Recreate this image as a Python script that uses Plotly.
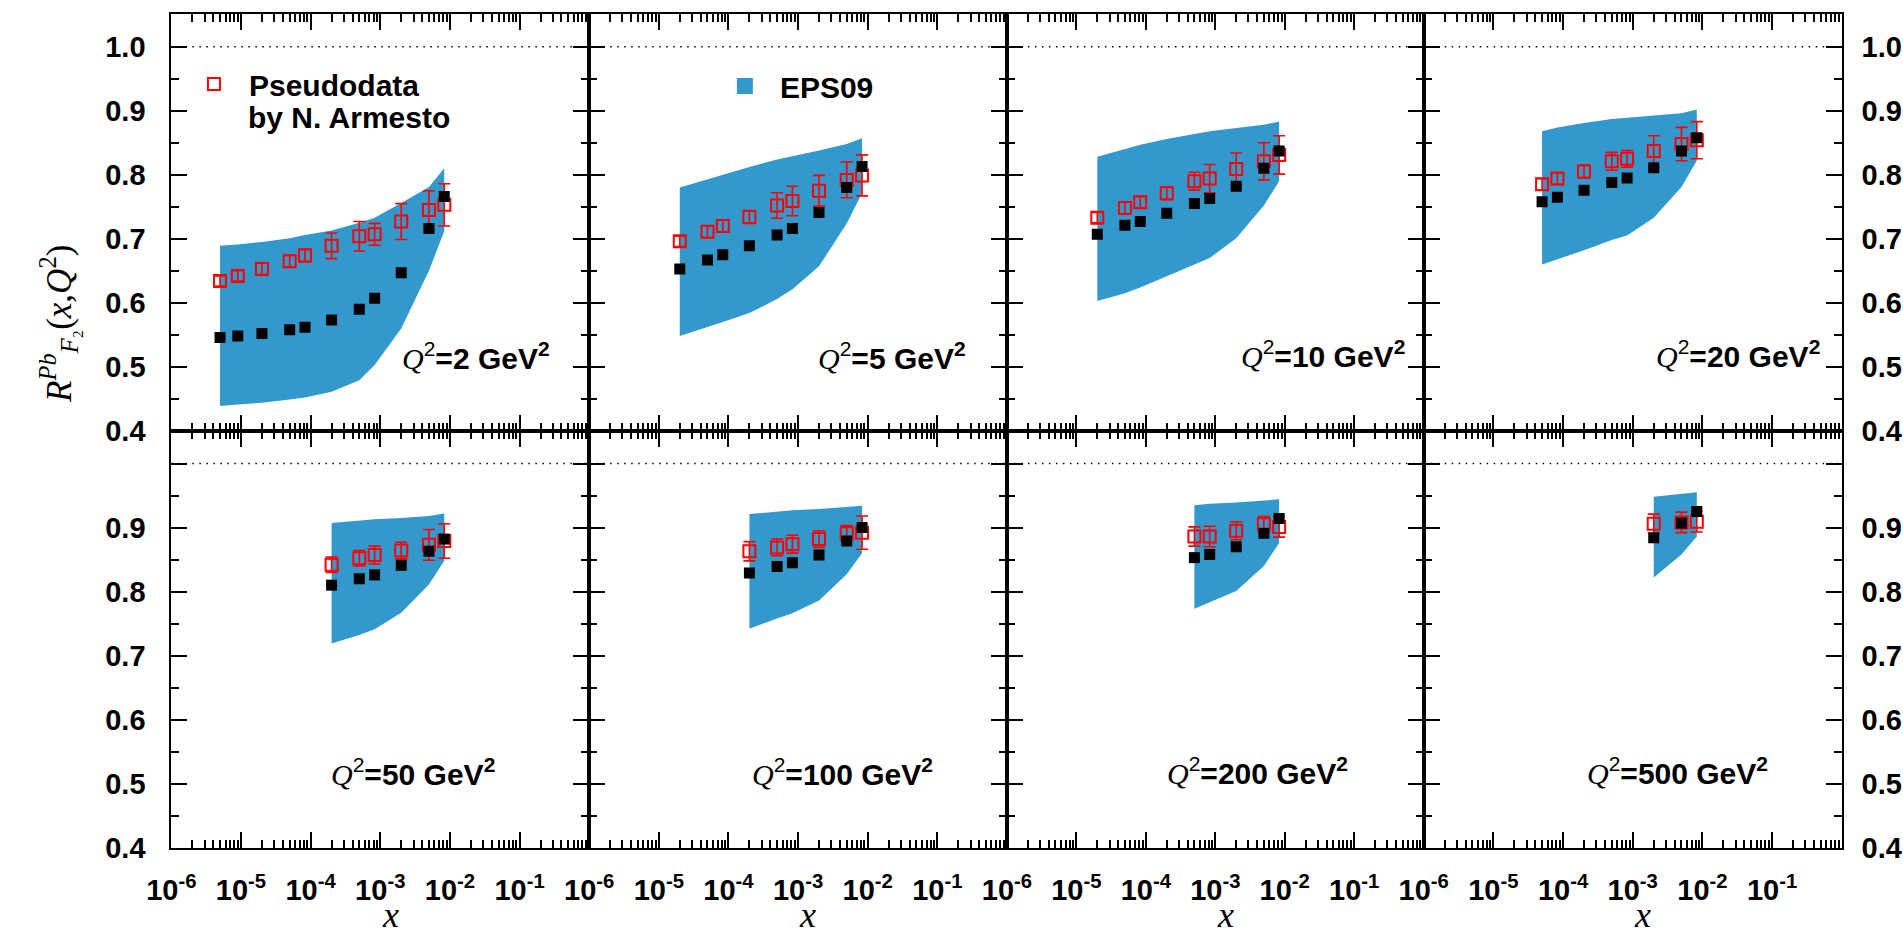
import plotly.graph_objects as go

W, H = 1903, 943

# ---------------- data ----------------
Q2_VALUES = ["2", "5", "10", "20", "50", "100", "200", "500"]

X_GRID = [
    [5e-6, 9e-6, 2e-5, 5e-5, 8.3e-5, 2e-4, 5e-4, 8.3e-4, 2e-3, 5e-3, 8.3e-3],
    [2e-5, 5e-5, 8.3e-5, 2e-4, 5e-4, 8.3e-4, 2e-3, 5e-3, 8.3e-3],
    [2e-5, 5e-5, 8.3e-5, 2e-4, 5e-4, 8.3e-4, 2e-3, 5e-3, 8.3e-3],
    [5e-5, 8.3e-5, 2e-4, 5e-4, 8.3e-4, 2e-3, 5e-3, 8.3e-3],
    [2e-4, 5e-4, 8.3e-4, 2e-3, 5e-3, 8.3e-3],
    [2e-4, 5e-4, 8.3e-4, 2e-3, 5e-3, 8.3e-3],
    [5e-4, 8.3e-4, 2e-3, 5e-3, 8.3e-3],
    [2e-3, 5e-3, 8.3e-3],
]

EPS09_CENTRAL = [
    [0.546, 0.548, 0.552, 0.558, 0.562, 0.573, 0.590, 0.607, 0.647, 0.716, 0.766],
    [0.653, 0.667, 0.675, 0.689, 0.706, 0.716, 0.741, 0.780, 0.813],
    [0.707, 0.721, 0.727, 0.740, 0.755, 0.763, 0.782, 0.810, 0.837],
    [0.758, 0.765, 0.776, 0.788, 0.795, 0.811, 0.837, 0.858],
    [0.810, 0.820, 0.826, 0.841, 0.863, 0.882],
    [0.829, 0.839, 0.845, 0.857, 0.879, 0.900],
    [0.853, 0.858, 0.870, 0.891, 0.914],
    [0.884, 0.907, 0.925],
]

EPS09_UPPER = [
    [0.689, 0.691, 0.695, 0.701, 0.706, 0.713, 0.725, 0.733, 0.756, 0.781, 0.810],
    [0.780, 0.793, 0.800, 0.812, 0.824, 0.829, 0.838, 0.848, 0.857],
    [0.828, 0.840, 0.847, 0.856, 0.864, 0.868, 0.873, 0.878, 0.883],
    [0.868, 0.874, 0.881, 0.887, 0.889, 0.892, 0.896, 0.902],
    [0.907, 0.911, 0.913, 0.915, 0.918, 0.922],
    [0.921, 0.925, 0.927, 0.929, 0.932, 0.934],
    [0.935, 0.937, 0.939, 0.942, 0.944],
    [0.948, 0.952, 0.955],
]

EPS09_LOWER = [
    [0.439, 0.441, 0.444, 0.449, 0.452, 0.461, 0.479, 0.503, 0.560, 0.650, 0.712],
    [0.548, 0.562, 0.570, 0.584, 0.606, 0.621, 0.657, 0.724, 0.771],
    [0.603, 0.615, 0.624, 0.641, 0.660, 0.670, 0.701, 0.752, 0.790],
    [0.660, 0.668, 0.682, 0.698, 0.705, 0.733, 0.781, 0.822],
    [0.719, 0.732, 0.741, 0.767, 0.811, 0.848],
    [0.742, 0.758, 0.766, 0.786, 0.827, 0.860],
    [0.773, 0.783, 0.801, 0.840, 0.876],
    [0.822, 0.858, 0.886],
]

PSEUDODATA = [
    [0.634, 0.642, 0.653, 0.665, 0.674, 0.689, 0.704, 0.707, 0.727, 0.745, 0.753],
    [0.696, 0.711, 0.720, 0.734, 0.752, 0.759, 0.775, 0.792, 0.799],
    [0.733, 0.748, 0.757, 0.771, 0.790, 0.794, 0.809, 0.821, 0.831],
    [0.785, 0.794, 0.805, 0.821, 0.825, 0.837, 0.848, 0.854],
    [0.842, 0.852, 0.857, 0.864, 0.873, 0.879],
    [0.863, 0.869, 0.874, 0.882, 0.891, 0.892],
    [0.886, 0.886, 0.895, 0.905, 0.901],
    [0.906, 0.908, 0.909],
]

PSEUDODATA_ERR = [
    [0.008, 0.008, 0.009, 0.009, 0.010, 0.020, 0.023, 0.017, 0.028, 0.030, 0.033],
    [0.008, 0.009, 0.009, 0.010, 0.020, 0.023, 0.024, 0.028, 0.032],
    [0.008, 0.009, 0.009, 0.010, 0.014, 0.022, 0.025, 0.029, 0.030],
    [0.009, 0.009, 0.010, 0.014, 0.013, 0.024, 0.026, 0.029],
    [0.012, 0.012, 0.014, 0.013, 0.024, 0.027],
    [0.015, 0.013, 0.014, 0.013, 0.012, 0.026],
    [0.015, 0.016, 0.014, 0.012, 0.016],
    [0.015, 0.016, 0.016],
]

LEGEND_PSEUDO_LINE1 = "Pseudodata"
LEGEND_PSEUDO_LINE2 = "by N. Armesto"
LEGEND_EPS = "EPS09"

X_TICK_VALS = [1e-6, 1e-5, 1e-4, 1e-3, 1e-2, 1e-1, 1.0]
X_TICK_TEXT = ["10<sup>-6</sup>", "10<sup>-5</sup>", "10<sup>-4</sup>", "10<sup>-3</sup>",
               "10<sup>-2</sup>", "10<sup>-1</sup>", ""]
Y_TICK_VALS = [0.4, 0.5, 0.6, 0.7, 0.8, 0.9, 1.0]
Y_TICK_TEXT_TOP = ["0.4", "0.5", "0.6", "0.7", "0.8", "0.9", "1.0"]
Y_TICK_TEXT_BOTTOM = ["0.4", "0.5", "0.6", "0.7", "0.8", "0.9", ""]
Y_MINOR_VALS = [0.45, 0.55, 0.65, 0.75, 0.85, 0.95]
X_MINOR_VALS = [d * 10.0 ** e for e in range(-6, 0) for d in range(2, 10)]

# ---------------- geometry (pixels) ----------------
COL_EDGES = [148.3, 571.7, 995.0, 1417.3, 1841.0]
ROW_EDGES = [14.3, 438.3, 862.3]
Y_RANGE = [0.4, 1.051]

BLUE = "#3399CC"
RED = "#FF0000"
SANS = "Liberation Sans"
SERIF = "Liberation Serif"


def fx(p):
    return p / W


def fy(p):
    return 1 - p / H


fig = go.Figure()
annotations = []
shapes = []

for i in range(8):
    row, col = divmod(i, 4)
    n = i + 1
    xa = "x" if n == 1 else f"x{n}"
    ya = "y" if n == 1 else f"y{n}"
    xs = X_GRID[i]

    # EPS09 uncertainty band
    fig.add_trace(go.Scatter(
        x=xs + xs[::-1], y=EPS09_UPPER[i] + EPS09_LOWER[i][::-1],
        fill="toself", fillcolor=BLUE, mode="lines",
        line=dict(width=0, color=BLUE), showlegend=False, hoverinfo="skip",
        xaxis=xa, yaxis=ya))
    # pseudodata with error bars
    fig.add_trace(go.Scatter(
        x=xs, y=PSEUDODATA[i], mode="markers",
        marker=dict(symbol="square-open", size=12, color=RED, line=dict(width=2, color=RED)),
        error_y=dict(type="data", array=PSEUDODATA_ERR[i], color=RED, thickness=1.6, width=6),
        name=LEGEND_PSEUDO_LINE1, showlegend=(i == 0), legend="legend",
        xaxis=xa, yaxis=ya))
    # EPS09 central values
    fig.add_trace(go.Scatter(
        x=xs, y=EPS09_CENTRAL[i], mode="markers",
        marker=dict(symbol="square", size=11, color="black"),
        showlegend=False, xaxis=xa, yaxis=ya))

    x0, x1 = COL_EDGES[col], COL_EDGES[col + 1]
    y0, y1 = ROW_EDGES[row], ROW_EDGES[row + 1]
    key_x = "xaxis" if n == 1 else f"xaxis{n}"
    key_y = "yaxis" if n == 1 else f"yaxis{n}"

    fig.layout[key_x] = dict(
        type="log", range=[-6, 0], domain=[fx(x0), fx(x1)], anchor=ya,
        showline=True, linecolor="black", linewidth=2, mirror="allticks",
        ticks="inside", ticklen=16, tickwidth=1.5, tickcolor="black",
        tickmode="array", tickvals=X_TICK_VALS, ticktext=X_TICK_TEXT,
        showticklabels=(row == 1), ticklabelstandoff=16,
        tickfont=dict(family=SANS, size=29, color="black", weight="bold"),
        showgrid=False, zeroline=False,
        minor=dict(tickmode="array", tickvals=X_MINOR_VALS, ticks="inside", ticklen=8,
                   tickwidth=1.5, tickcolor="black", showgrid=False))
    fig.layout[key_y] = dict(
        range=Y_RANGE, domain=[fy(y1), fy(y0)], anchor=xa,
        showline=True, linecolor="black", linewidth=2, mirror="allticks",
        ticks="inside", ticklen=16, tickwidth=1.5, tickcolor="black",
        tickmode="array", tickvals=Y_TICK_VALS,
        ticktext=Y_TICK_TEXT_TOP if row == 0 else Y_TICK_TEXT_BOTTOM,
        showticklabels=(col in (0, 3)), side=("right" if col == 3 else "left"),
        ticklabelstandoff=(18 if col == 0 else 12),
        tickfont=dict(family=SANS, size=29, color="black", weight="bold"),
        showgrid=False, zeroline=False,
        minor=dict(tickmode="array", tickvals=Y_MINOR_VALS, ticks="inside", ticklen=8,
                   tickwidth=1.5, tickcolor="black", showgrid=False))

    # dotted reference line at R = 1
    shapes.append(dict(type="line", xref=f"{xa} domain", yref=ya, x0=0, x1=1, y0=1.0, y1=1.0,
                       line=dict(color="black", width=1.5, dash="1.5px,5.5px")))

    # Q^2 label
    lab_right = [534, 956, 1400, 1821, 478, 922, 1343, 1768][i]
    lab_y = [362, 362, 360, 360, 785, 785, 784, 784][i]
    annotations.append(dict(
        xref="paper", yref="paper", x=fx(lab_right), y=fy(lab_y),
        xanchor="right", yanchor="middle", showarrow=False,
        text=(f"<span style='font-family:{SERIF}'><i>Q</i></span><sup>2</sup>"
              f"<b>={Q2_VALUES[i]} GeV</b><b><sup>2</sup></b>"),
        font=dict(family=SANS, size=30, color="black")))

    # x title under each bottom panel
    if row == 1:
        annotations.append(dict(
            xref="paper", yref="paper", x=fx((x0 + x1) / 2 + 10), y=fy(931),
            xanchor="center", yanchor="middle", showarrow=False,
            text="<i>x</i>", font=dict(family=SERIF, size=36, color="black")))

# EPS09 legend entry
fig.add_trace(go.Scatter(
    x=[None], y=[None], mode="markers", name=LEGEND_EPS,
    marker=dict(symbol="square", size=17, color=BLUE),
    legend="legend2", showlegend=True, xaxis="x2", yaxis="y2"))

# second line of the pseudodata legend entry
annotations.append(dict(
    xref="paper", yref="paper", x=fx(224), y=fy(120), xanchor="left", yanchor="middle",
    showarrow=False, text=LEGEND_PSEUDO_LINE2,
    font=dict(family=SANS, size=30, color="black", weight="bold")))

# y title
annotations.append(dict(
    xref="paper", yref="paper", x=fx(34), y=fy(330), xanchor="center", yanchor="middle",
    showarrow=False, textangle=-90,
    text="<i>R</i><sup><i>Pb</i></sup><sub><i>F</i>\u2082</sub>(<i>x</i>,<i>Q</i><sup>2</sup>)",
    font=dict(family=SERIF, size=35, color="black")))

fig.update_layout(
    width=W, height=H, margin=dict(l=0, r=0, t=0, b=0, pad=0),
    paper_bgcolor="white", plot_bgcolor="white",
    annotations=annotations, shapes=shapes,
    legend=dict(x=fx(156), y=fy(59), xanchor="left", yanchor="top",
                bgcolor="rgba(0,0,0,0)", borderwidth=0, itemwidth=60,
                font=dict(family=SANS, size=30, color="black", weight="bold")),
    legend2=dict(x=fx(694), y=fy(61), xanchor="left", yanchor="top",
                 bgcolor="rgba(0,0,0,0)", borderwidth=0, itemwidth=60,
                 font=dict(family=SANS, size=30, color="black", weight="bold")),
)

fig.write_html("out.html")
